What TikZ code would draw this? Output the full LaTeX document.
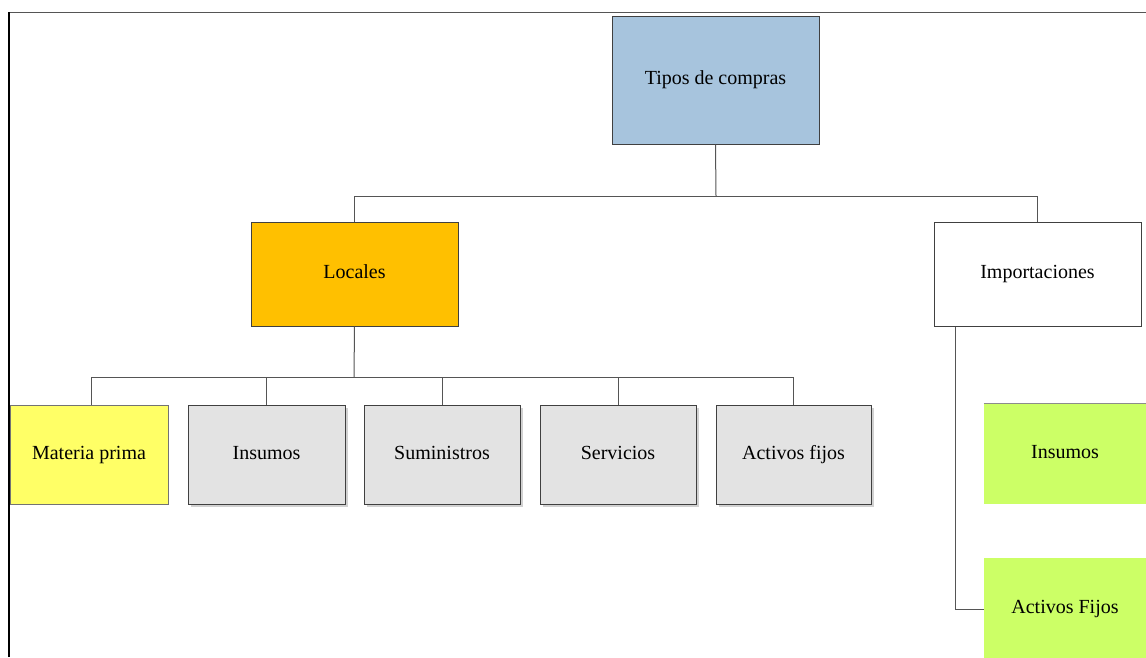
\documentclass[tikz,border=0pt]{standalone}
\usepackage{fontspec}
\setmainfont{Liberation Serif}
\usetikzlibrary{shadows}
\definecolor{boxline}{HTML}{404040}
\definecolor{connline}{HTML}{555555}
\definecolor{topblue}{HTML}{A7C4DD}
\definecolor{locorange}{HTML}{FFC000}
\definecolor{rawyellow}{HTML}{FFFF66}
\definecolor{itemgray}{HTML}{E3E3E3}
\definecolor{importgreen}{HTML}{CCFF66}
\tikzset{
  label text/.style={font=\fontsize{20}{24}\selectfont, align=center,
    text height=13pt, text depth=4pt},
  box/.style={draw=boxline, line width=1pt, rectangle, inner sep=0pt, label text},
  itembox/.style={box, fill=itemgray, minimum height=99pt,
    drop shadow={shadow xshift=2.5pt, shadow yshift=-2.5pt, fill=black!18, opacity=1}},
  greenbox/.style={rectangle, inner sep=0pt, fill=importgreen, label text,
    minimum width=162pt},
  conn/.style={draw=connline, line width=1pt}
}
\begin{document}
\begin{tikzpicture}[x=1pt, y=-1pt]
  \useasboundingbox (0,0) rectangle (1146,657);
  \fill[white] (0,0) rectangle (1146,657);
  \clip (0,0) rectangle (1146,657);

  % page frame
  \draw[connline, line width=1.2pt] (9,12.5) -- (1146,12.5);
  \draw[black, line width=1.4pt] (9,657) -- (9,12);

  % top level
  \node[box, fill=topblue, minimum width=207pt, minimum height=128pt]
    (tipos) at (715.5,80) {Tipos de compras};

  % second level
  \node[box, fill=locorange, minimum width=207pt, minimum height=104pt]
    (locales) at (354.5,274) {Locales};
  \node[box, fill=white, minimum width=207pt, minimum height=104pt]
    (import) at (1037.5,274) {Importaciones};

  % local purchase types
  \node[box, fill=rawyellow, draw=black!55, minimum width=158pt, minimum height=99pt]
    (mp) at (89,454.5) {Materia prima};
  \node[itembox, minimum width=157pt] (ins) at (266.5,454.5) {Insumos};
  \node[itembox, minimum width=156pt] (sum) at (442,454.5) {Suministros};
  \node[itembox, minimum width=156pt] (ser) at (618,454.5) {Servicios};
  \node[itembox, minimum width=155pt] (act) at (793.5,454.5) {Activos fijos};

  % import purchase types
  \node[greenbox, minimum height=100pt] (insI) at (1065,454) {Insumos};
  \node[greenbox, minimum height=102pt] (actI) at (1065,609) {Activos Fijos};
  \draw[black!45, line width=0.8pt] (insI.north west) -- (insI.north east);

  % connectors
  \coordinate (bus1) at (716,196);
  \draw[conn] (tipos.south) -- (bus1);
  \draw[conn] (bus1) -| (locales.north);
  \draw[conn] (bus1) -| (import.north);

  \coordinate (bus2) at (354,377);
  \draw[conn] (locales.south) -- (bus2);
  \draw[conn] (bus2) -| ([xshift=2pt]mp.north);
  \draw[conn] (bus2) -| (ins.north);
  \draw[conn] (bus2) -| (sum.north);
  \draw[conn] (bus2) -| (ser.north);
  \draw[conn] (bus2) -| (act.north);

  \draw[conn] ([xshift=22pt]import.south west) |- (actI.west);
\end{tikzpicture}
\end{document}
